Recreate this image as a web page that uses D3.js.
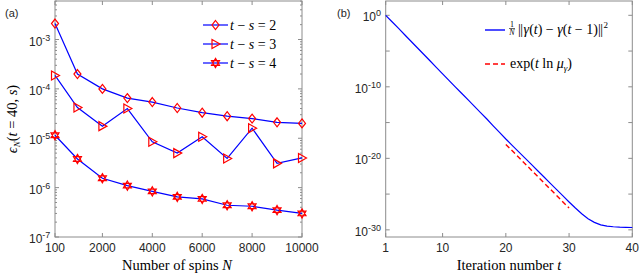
<!DOCTYPE html>
<html>
<head>
<meta charset="utf-8">
<script src="https://cdn.jsdelivr.net/npm/d3@7"></script>
<style>
  body { margin: 0; background: #fff; }
  svg { display: block; }
  .tick-label { font-family: "Liberation Sans", Arial, sans-serif; font-size: 12px; fill: #262626; }
  .math { font-family: "Liberation Serif", "Times New Roman", serif; fill: #000; }
</style>
</head>
<body>
<svg id="canvas"></svg>
<script>
// ---- panel (a) data ----
let spins = [100, 1000, 2000, 3000, 4000, 5000, 6000, 7000, 8000, 9000, 10000]
let err2 = [2.1e-3, 2.0e-4, 1.0e-4, 6.5e-5, 5.4e-5, 4.1e-5, 3.3e-5, 2.8e-5, 2.5e-5, 2.1e-5, 2.0e-5]
let err3 = [1.87e-4, 4.2e-5, 1.76e-5, 4.0e-5, 8.5e-6, 5.0e-6, 1.07e-5, 3.9e-6, 1.6e-5, 3.1e-6, 4.0e-6]
let err4 = [1.15e-5, 3.8e-6, 1.55e-6, 1.1e-6, 8.4e-7, 6.5e-7, 5.9e-7, 4.4e-7, 4.2e-7, 3.5e-7, 3.0e-7]
let seriesNames = ['2', '3', '4']
let spinTicks = [100, 2000, 4000, 6000, 8000, 10000]
let decadesA = [-7, -6, -5, -4, -3]

// ---- panel (b) data (log10 values) ----
let iters = d3.range(1, 41)
let logGamma = [0, -0.9, -1.8, -2.72, -3.63, -4.54, -5.45, -6.36, -7.28, -8.2,
  -9.1, -10.0, -10.9, -11.8, -12.7, -13.6, -14.5, -15.45, -16.38, -17.3,
  -18.18, -19.06, -19.94, -20.82, -21.7, -22.58, -23.46, -24.34, -25.22, -26.1,
  -26.95, -27.75, -28.45, -28.95, -29.3, -29.48, -29.57, -29.62, -29.65, -29.67]
let fitIters = [20, 30]
let logFit = [-18.05, -26.96]
let iterTicks = [1, 10, 20, 30, 40]
let decadesB = [-30, -25, -20, -15, -10, -5, 0]
let decadeLabelsB = [-30, -20, -10, 0]

const width = 640
const height = 274
const axisGray = '#8c8c8c'

let canvas = d3.select('#canvas')
canvas.attr('width', width).attr('height', height)

let supLabel = (g, x, y, exp, anchor) => {
  let t = g.append('text').attr('class', 'tick-label')
    .attr('x', x).attr('y', y).attr('text-anchor', anchor)
  t.append('tspan').text('10')
  t.append('tspan').attr('dy', -5).attr('font-size', '9px').text(exp)
  return t
}

let drawFrame = (g, xScale, yScale) => {
  let [x0, x1] = xScale.range()
  let [y1, y0] = yScale.range()
  g.append('rect').attr('x', x0).attr('y', y0)
    .attr('width', x1 - x0).attr('height', y1 - y0)
    .attr('fill', 'none').attr('stroke', axisGray).attr('stroke-width', 1)
}

let tickMarks = (g, xs, ys, xScale, yScale, len) => {
  let [x0, x1] = xScale.range()
  let [y1, y0] = yScale.range()
  xs.forEach(v => {
    let x = xScale(v)
    g.append('line').attr('x1', x).attr('x2', x).attr('y1', y1).attr('y2', y1 - len).attr('stroke', axisGray)
    g.append('line').attr('x1', x).attr('x2', x).attr('y1', y0).attr('y2', y0 + len).attr('stroke', axisGray)
  })
  ys.forEach(v => {
    let y = yScale(v)
    g.append('line').attr('x1', x0).attr('x2', x0 + len).attr('y1', y).attr('y2', y).attr('stroke', axisGray)
    g.append('line').attr('x1', x1).attr('x2', x1 - len).attr('y1', y).attr('y2', y).attr('stroke', axisGray)
  })
}

// marker shapes
let diamond = (x, y) => `M${x},${y - 4.5}L${x + 3.5},${y}L${x},${y + 4.5}L${x - 3.5},${y}Z`
let triRight = (x, y) => `M${x - 3.5},${y - 4.5}L${x + 4.5},${y}L${x - 3.5},${y + 4.5}Z`
let hexagram = (x, y) => {
  let r = 4.6
  let p = a => [x + r * Math.cos(a), y + r * Math.sin(a)]
  let tri = off => [0, 1, 2].map(i => p(off + i * 2 * Math.PI / 3))
  let a = tri(-Math.PI / 2), b = tri(Math.PI / 2)
  return 'M' + a.join('L') + 'Z' + 'M' + b.join('L') + 'Z'
}
let markers = [diamond, triRight, hexagram]

// =================== panel (a) ===================
let gA = canvas.append('g')
let xA = d3.scaleLinear().domain([100, 10000]).range([55, 302])
let yA = d3.scaleLog().domain([1e-7, Math.pow(10, -2.22)]).range([237, 1])

drawFrame(gA, xA, yA)
let minorA = []
decadesA.forEach(d => { d3.range(2, 10).forEach(m => { let v = m * Math.pow(10, d); if (v < yA.domain()[1]) minorA.push(v) }) })
tickMarks(gA, spinTicks, decadesA.map(d => Math.pow(10, d)), xA, yA, 4)
tickMarks(gA, [], minorA, xA, yA, 2)

spinTicks.forEach(v => {
  gA.append('text').attr('class', 'tick-label').attr('x', xA(v)).attr('y', 252)
    .attr('text-anchor', 'middle').text(v)
})
decadesA.forEach(d => supLabel(gA, 29, yA(Math.pow(10, d)) + 6, d, 'start'))

let lineA = d3.line().x((d, i) => xA(spins[i])).y(d => yA(d))
let allErr = [err2, err3, err4]
allErr.forEach((s, k) => {
  gA.append('path').datum(s).attr('d', lineA)
    .attr('fill', 'none').attr('stroke', '#0000ff').attr('stroke-width', 1.2)
  gA.selectAll(null).data(s).enter().append('path')
    .attr('d', (d, i) => markers[k](xA(spins[i]), yA(d)))
    .attr('fill', 'none').attr('stroke', '#ff0000').attr('stroke-width', 1.2)
})

gA.append('text').attr('x', 5).attr('y', 17).attr('class', 'tick-label').style('font-size', '11px').text('(a)')

// legend (a)
seriesNames.forEach((n, k) => {
  let y = [25, 44, 63][k]
  gA.append('line').attr('x1', 203).attr('x2', 228).attr('y1', y).attr('y2', y)
    .attr('stroke', '#0000ff').attr('stroke-width', 1.2)
  gA.append('path').attr('d', markers[k](215.5, y)).attr('fill', 'none')
    .attr('stroke', '#ff0000').attr('stroke-width', 1.2)
  let t = gA.append('text').attr('class', 'math').attr('x', 230).attr('y', y + 4.5).style('font-size', '14px')
  t.append('tspan').attr('font-style', 'italic').text('t')
  t.append('tspan').text(' − ')
  t.append('tspan').attr('font-style', 'italic').text('s')
  t.append('tspan').text(' = ' + n)
})

// axis labels (a)
let xl = gA.append('text').attr('class', 'math').attr('x', 177).attr('y', 270)
  .attr('text-anchor', 'middle').style('font-size', '14.5px')
xl.append('tspan').text('Number of spins ')
xl.append('tspan').attr('font-style', 'italic').text('N')

let yl = gA.append('text').attr('class', 'math')
  .attr('transform', 'translate(17,119) rotate(-90)').attr('text-anchor', 'middle').style('font-size', '14.5px')
yl.append('tspan').attr('font-style', 'italic').text('ϵ')
yl.append('tspan').attr('font-style', 'italic').attr('font-size', '9px').attr('dy', 3).text('N')
yl.append('tspan').attr('dy', -3).text('(')
yl.append('tspan').attr('font-style', 'italic').text('t')
yl.append('tspan').text(' = 40, ')
yl.append('tspan').attr('font-style', 'italic').text('s')
yl.append('tspan').text(')')

// =================== panel (b) ===================
let gB = canvas.append('g')
let xB = d3.scaleLinear().domain([1, 40]).range([385.7, 632.3])
let yB = d3.scaleLog().domain([1e-31, 1e2]).range([237, 1])

drawFrame(gB, xB, yB)
tickMarks(gB, iterTicks, decadesB.map(d => Math.pow(10, d)), xB, yB, 4)

iterTicks.forEach(v => {
  gB.append('text').attr('class', 'tick-label').attr('x', xB(v)).attr('y', 252)
    .attr('text-anchor', 'middle').text(v)
})
decadeLabelsB.forEach(d => supLabel(gB, 381, yB(Math.pow(10, d)) + 6, d, 'end'))

let lineB = d3.line().x((d, i) => xB(iters[i])).y(d => yB(Math.pow(10, d)))
gB.append('path').datum(logGamma).attr('d', lineB)
  .attr('fill', 'none').attr('stroke', '#0000ff').attr('stroke-width', 1.2)
let lineFit = d3.line().x((d, i) => xB(fitIters[i])).y(d => yB(Math.pow(10, d)))
gB.append('path').datum(logFit).attr('d', lineFit)
  .attr('fill', 'none').attr('stroke', '#ff0000').attr('stroke-width', 1.4).attr('stroke-dasharray', '5,3')

gB.append('text').attr('x', 337).attr('y', 17).attr('class', 'tick-label').style('font-size', '11px').text('(b)')

// legend (b)
gB.append('line').attr('x1', 485).attr('x2', 505).attr('y1', 30).attr('y2', 30)
  .attr('stroke', '#0000ff').attr('stroke-width', 1.4)
gB.append('line').attr('x1', 485).attr('x2', 505).attr('y1', 64).attr('y2', 64)
  .attr('stroke', '#ff0000').attr('stroke-width', 1.4).attr('stroke-dasharray', '5,3')

let fr = gB.append('g').attr('class', 'math')
fr.append('text').attr('x', 512).attr('y', 27).attr('text-anchor', 'middle').style('font-size', '8px').text('1')
fr.append('line').attr('x1', 509).attr('x2', 515).attr('y1', 28.5).attr('y2', 28.5).attr('stroke', '#000').attr('stroke-width', 0.6)
fr.append('text').attr('x', 512).attr('y', 35).attr('text-anchor', 'middle').attr('font-style', 'italic').style('font-size', '8px').text('N')
let l1 = gB.append('text').attr('class', 'math').attr('x', 518).attr('y', 34).style('font-size', '14px')
l1.append('tspan').attr('letter-spacing', '-0.5px').text('||')
l1.append('tspan').attr('dx', 1).attr('font-style', 'italic').text('γ')
l1.append('tspan').text('(')
l1.append('tspan').attr('font-style', 'italic').text('t')
l1.append('tspan').text(') − ')
l1.append('tspan').attr('font-style', 'italic').text('γ')
l1.append('tspan').text('(')
l1.append('tspan').attr('font-style', 'italic').text('t')
l1.append('tspan').text(' − 1)')
l1.append('tspan').attr('letter-spacing', '-0.5px').text('||')
l1.append('tspan').attr('dx', 1).attr('dy', -6).style('font-size', '9px').text('2')

let l2 = gB.append('text').attr('class', 'math').attr('x', 510).attr('y', 68).style('font-size', '14px')
l2.append('tspan').text('exp(')
l2.append('tspan').attr('font-style', 'italic').text('t')
l2.append('tspan').text(' ln ')
l2.append('tspan').attr('font-style', 'italic').text('μ')
l2.append('tspan').attr('font-style', 'italic').attr('dy', 3).style('font-size', '9px').text('γ')
l2.append('tspan').attr('dy', -3).text(')')

let xlb = gB.append('text').attr('class', 'math').attr('x', 509).attr('y', 270)
  .attr('text-anchor', 'middle').style('font-size', '14.5px')
xlb.append('tspan').text('Iteration number ')
xlb.append('tspan').attr('font-style', 'italic').text('t')
</script>
</body>
</html>
